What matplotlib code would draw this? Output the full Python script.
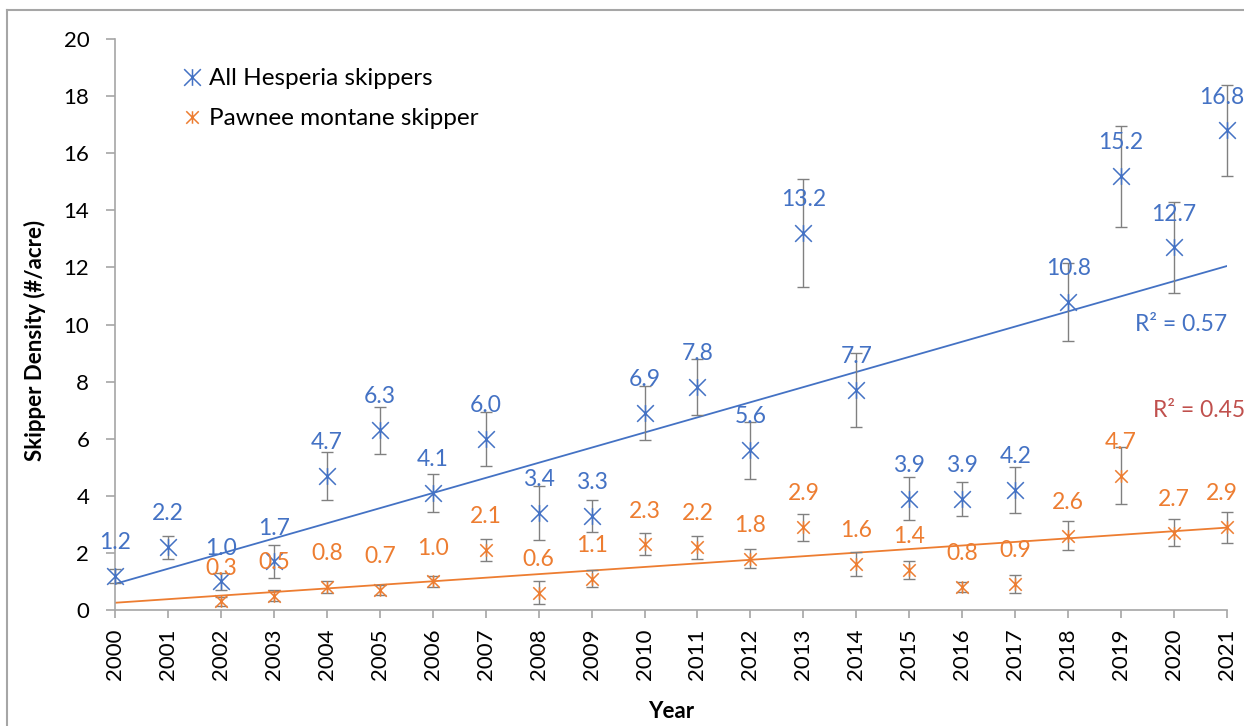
import numpy as np
import matplotlib
matplotlib.use('Agg')
import matplotlib.pyplot as plt
from matplotlib.path import Path
from matplotlib.lines import Line2D

plt.rcParams['font.family'] = ['Lato', 'DejaVu Sans']

years = list(range(2000, 2022))

all_skippers = [1.2, 2.2, 1.0, 1.7, 4.7, 6.3, 4.1, 6.0, 3.4, 3.3, 6.9,
                7.8, 5.6, 13.2, 7.7, 3.9, 3.9, 4.2, 10.8, 15.2, 12.7, 16.8]
all_err = [0.25, 0.4, 0.3, 0.58, 0.84, 0.82, 0.65, 0.95, 0.96, 0.56, 0.93,
           0.98, 1.0, 1.9, 1.3, 0.75, 0.6, 0.8, 1.37, 1.77, 1.6, 1.6]

pawnee = [np.nan, np.nan, 0.3, 0.5, 0.8, 0.7, 1.0, 2.1, 0.6, 1.1, 2.3,
          2.2, 1.8, 2.9, 1.6, 1.4, 0.8, 0.9, 2.6, 4.7, 2.7, 2.9]
pawnee_err = [np.nan, np.nan, 0.17, 0.2, 0.2, 0.18, 0.2, 0.38, 0.4, 0.3, 0.38,
              0.4, 0.32, 0.47, 0.42, 0.31, 0.18, 0.32, 0.5, 1.0, 0.47, 0.55]

r2_labels = ['R² = 0.57', 'R² = 0.45']

BLUE = '#4472C4'
ORANGE = '#ED7D31'
RED = '#C0504D'
GREY = '#808080'
SPINE = '#A6A6A6'

# asterisk-like marker: x with a vertical stroke
star = Path([(-1, -1), (1, 1), (-1, 1), (1, -1), (0, -1), (0, 1)],
            [Path.MOVETO, Path.LINETO, Path.MOVETO, Path.LINETO,
             Path.MOVETO, Path.LINETO])

fig = plt.figure(figsize=(12.44, 7.26), dpi=100)
ax = fig.add_axes([115 / 1244, 1 - 610 / 726, (1227 - 115) / 1244, (610 - 39) / 726])

x = np.array(years, dtype=float)

series = [
    (all_skippers, all_err, BLUE, 12, 'All Hesperia skippers'),
    (pawnee, pawnee_err, ORANGE, 9, 'Pawnee montane skipper'),
]

for vals, errs, color, ms, label in series:
    y = np.array(vals, dtype=float)
    e = np.array(errs, dtype=float)
    ok = ~np.isnan(y)
    eb = ax.errorbar(x[ok], y[ok], yerr=e[ok], fmt='none', ecolor=GREY,
                     elinewidth=1, capsize=4.5, capthick=1, zorder=2)
    for art in eb.lines[1] + eb.lines[2]:
        art.set_clip_on(False)
    ax.plot(x[ok], y[ok], linestyle='none', marker=star, markersize=ms,
            markeredgewidth=1.1, color=color, label=label, zorder=3,
            clip_on=False)
    # linear trendline
    k, b = np.polyfit(x[ok], y[ok], 1)
    ax.plot([years[0], years[-1]], [k * years[0] + b, k * years[-1] + b],
            color=color, linewidth=1.3, zorder=1)
    # data labels
    idx = np.where(ok)[0]
    for i in idx:
        dx = -4 if i == len(years) - 1 else 0
        ax.annotate(f'{y[i]:.1f}', (x[i], y[i]), xytext=(dx, 24),
                    textcoords='offset points', ha='center', va='center',
                    fontsize=16.5, color=color, zorder=4)

ax.text(2021, 10.0, r2_labels[0], ha='right', va='center', fontsize=16.5, color=BLUE)
ax.text(2021.35, 7.0, r2_labels[1], ha='right', va='center', fontsize=16.5, color=RED)

ax.set_xlim(2000, 2021)
ax.set_ylim(0, 20)
ax.set_xticks(years)
ax.set_xticklabels([str(v) for v in years], rotation=90)
ax.set_yticks(range(0, 21, 2))

for s in ['top', 'right']:
    ax.spines[s].set_visible(False)
for s in ['left', 'bottom']:
    ax.spines[s].set_color(SPINE)
    ax.spines[s].set_linewidth(1.2)

ax.tick_params(axis='y', direction='out', length=6.5, width=1.2, color=SPINE,
               labelsize=16, pad=12)
ax.tick_params(axis='x', direction='out', length=6, width=1.2, color=SPINE,
               labelsize=16, pad=7)

fig.text(35 / 1244, 1 - 340 / 726, 'Skipper Density (#/acre)', rotation=90,
         ha='center', va='center', fontsize=16, fontweight='bold')
fig.text(671 / 1244, 1 - 711 / 726, 'Year', ha='center', va='center',
         fontsize=16, fontweight='bold')

ax.legend(loc='upper left', bbox_to_anchor=(180 / 1244, 1 - 68 / 726),
          bbox_transform=fig.transFigure, frameon=False, fontsize=17.5,
          handlelength=1.0, handletextpad=0.2, labelspacing=0.8,
          borderpad=0, borderaxespad=0)

# outer chart border
fig.add_artist(Line2D([7 / 1244, 7 / 1244], [0, 1 - 10 / 726],
                      transform=fig.transFigure, color='#A6A6A6', linewidth=1.5))
fig.add_artist(Line2D([7 / 1244, 1], [1 - 10 / 726, 1 - 10 / 726],
                      transform=fig.transFigure, color='#A6A6A6', linewidth=1.5))

fig.savefig('out.png', dpi=100)
